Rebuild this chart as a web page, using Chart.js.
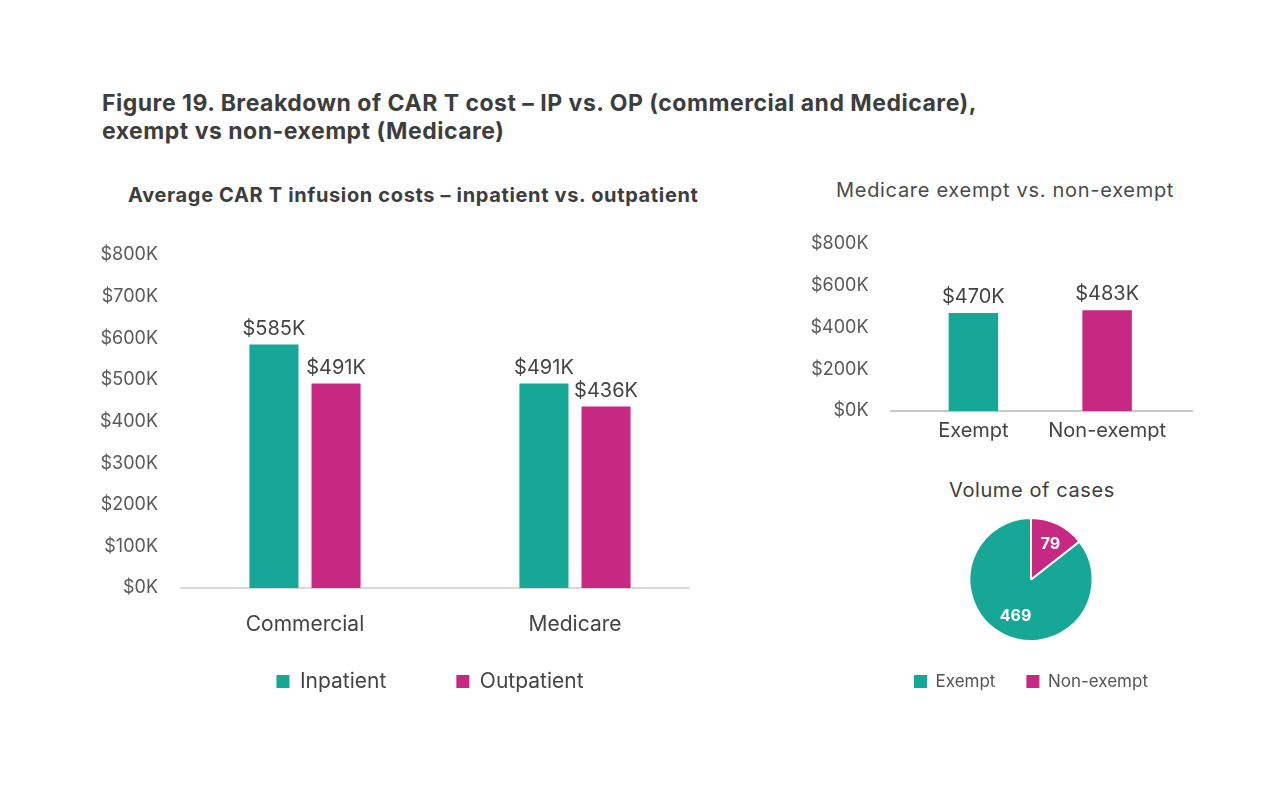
<!DOCTYPE html>
<html>
<head>
<meta charset="utf-8">
<script src="https://cdn.jsdelivr.net/npm/chart.js@4/dist/chart.umd.min.js"></script>
<style>
  html, body { margin: 0; padding: 0; background: #fff; }
  body { width: 1280px; height: 800px; position: relative; overflow: hidden; font-family: Inter, "Noto Sans", sans-serif; color: #3a3a3a; }
  .t { position: absolute; white-space: nowrap; }
  #fig { left: 102px; top: 89px; font-size: 23px; font-weight: 700; line-height: 28px; color: #3d3d3d; letter-spacing: 0.5px; }
  #sub1 { left: 128px; top: 183px; font-size: 20px; line-height: 24px; font-weight: 700; color: #3d3d3d; letter-spacing: 0.65px; }
  #sub2 { left: 836px; top: 178px; font-size: 20px; line-height: 24px; font-weight: 400; color: #4a4a4a; letter-spacing: 0.7px; }
  #sub3 { left: 949px; top: 478px; font-size: 20px; line-height: 24px; font-weight: 400; color: #3d3d3d; letter-spacing: 0.6px; }
  .box { position: absolute; }
</style>
</head>
<body>
<div class="t" id="fig">Figure 19. Breakdown of CAR T cost – IP vs. OP (commercial and Medicare),<br>exempt vs non-exempt (Medicare)</div>
<div class="t" id="sub1">Average CAR T infusion costs – inpatient vs. outpatient</div>
<div class="t" id="sub2">Medicare exempt vs. non-exempt</div>
<div class="t" id="sub3">Volume of cases</div>

<div class="box" style="left:80px;top:225px;width:640px;height:516px;"><canvas id="c1"></canvas></div>
<div class="box" style="left:795px;top:225px;width:402px;height:226px;"><canvas id="c2"></canvas></div>
<div class="box" style="left:871px;top:512px;width:320px;height:188px;"><canvas id="c3"></canvas></div>

<script>
// ---- Data (values in $K) ----
const categories = ['Commercial', 'Medicare'];
const inpatientCost = [585, 491];
const outpatientCost = [491, 436];

const medicareGroups = ['Exempt', 'Non-exempt'];
const medicareCost = [470, 483];

const caseLabels = ['Exempt', 'Non-exempt'];
const caseVolume = [469, 79];

const TEAL = '#16a796';
const MAGENTA = '#c72882';
const FONT = 'Inter, "Noto Sans", sans-serif';

const kFmt = v => '$' + v + 'K';

const barLabelPlugin = {
  id: 'barLabels',
  afterDatasetsDraw(chart, args, opts) {
    const ctx = chart.ctx;
    ctx.save();
    ctx.font = (opts.size || 18) + 'px ' + FONT;
    ctx.fillStyle = opts.color || '#444';
    ctx.textAlign = 'center';
    ctx.textBaseline = 'bottom';
    chart.data.datasets.forEach((ds, i) => {
      const meta = chart.getDatasetMeta(i);
      meta.data.forEach((el, j) => {
        ctx.fillText(kFmt(ds.data[j]), el.x, el.y - (opts.offset || 3));
      });
    });
    ctx.restore();
  }
};

const baselinePlugin = {
  id: 'baseline',
  beforeDatasetsDraw(chart, args, opts) {
    const a = chart.chartArea;
    const ctx = chart.ctx;
    ctx.save();
    ctx.strokeStyle = opts.color;
    ctx.lineWidth = opts.width;
    ctx.beginPath();
    ctx.moveTo(a.left - opts.extLeft, a.bottom);
    ctx.lineTo(a.right + opts.extRight, a.bottom);
    ctx.stroke();
    ctx.restore();
  }
};

// moves the legend so it sits closer to the category labels
const legendShiftPlugin = {
  id: 'legendShift',
  afterLayout(chart, args, opts) {
    const lg = chart.legend;
    if (lg) {
      lg.top -= opts.shiftY; lg.bottom -= opts.shiftY;
      lg.left -= opts.shiftX; lg.right -= opts.shiftX;
    }
  }
};

const pieLabelPlugin = {
  id: 'pieLabels',
  afterDatasetsDraw(chart) {
    const ctx = chart.ctx;
    const meta = chart.getDatasetMeta(0);
    ctx.save();
    ctx.font = 'bold 16px ' + FONT;
    ctx.fillStyle = '#ffffff';
    ctx.textAlign = 'center';
    ctx.textBaseline = 'middle';
    meta.data.forEach((arc, j) => {
      const mid = (arc.startAngle + arc.endAngle) / 2;
      const r = arc.outerRadius * 0.65;
      ctx.fillText(String(chart.data.datasets[0].data[j]), arc.x + Math.cos(mid) * r + 2, arc.y + Math.sin(mid) * r + 1);
    });
    ctx.restore();
  }
};

Chart.defaults.font.family = FONT;
Chart.defaults.animation = false;

// ---- Main bar chart ----
new Chart(document.getElementById('c1'), {
  type: 'bar',
  data: {
    labels: categories,
    datasets: [
      { label: 'Inpatient', data: inpatientCost, backgroundColor: TEAL },
      { label: 'Outpatient', data: outpatientCost, backgroundColor: MAGENTA }
    ]
  },
  options: {
    responsive: true,
    maintainAspectRatio: false,
    layout: { padding: { top: 30, right: 10, left: 0, bottom: 0 } },
    datasets: { bar: { categoryPercentage: 0.46, barPercentage: 0.79 } },
    scales: {
      y: {
        min: 0, max: 800,
        afterFit: s => { s.width = 90; },
        ticks: { stepSize: 100, callback: kFmt, color: '#595959', font: { size: 18 }, padding: 12 },
        grid: { display: false, drawTicks: false },
        border: { display: false }
      },
      x: {
        afterFit: s => { s.height = 52; },
        ticks: { color: '#444', font: { size: 21 }, padding: 24, maxRotation: 0 },
        grid: { display: false, drawTicks: false },
        border: { display: false }
      }
    },
    plugins: {
      legend: {
        position: 'bottom',
        fullSize: false,
        labels: { color: '#444', font: { size: 21 }, boxWidth: 13, boxHeight: 13, padding: 70 }
      },
      tooltip: { enabled: false },
      barLabels: { size: 20, color: '#444', offset: 6 },
      baseline: { color: '#d9d9d9', width: 2, extLeft: -10, extRight: -20 },
      legendShift: { shiftY: 39, shiftX: 10 }
    }
  },
  plugins: [baselinePlugin, barLabelPlugin, legendShiftPlugin]
});

// ---- Medicare exempt vs non-exempt bar chart ----
new Chart(document.getElementById('c2'), {
  type: 'bar',
  data: {
    labels: medicareGroups,
    datasets: [
      { label: 'Cost', data: medicareCost, backgroundColor: [TEAL, MAGENTA] }
    ]
  },
  options: {
    responsive: true,
    maintainAspectRatio: false,
    layout: { padding: { top: 19, right: 23, left: 0, bottom: 0 } },
    datasets: { bar: { categoryPercentage: 0.37, barPercentage: 1 } },
    scales: {
      y: {
        min: 0, max: 800,
        afterFit: s => { s.width = 111.5; s.paddingTop = 11; s.paddingBottom = 11; },
        ticks: { stepSize: 200, callback: kFmt, color: '#595959', font: { size: 18 }, padding: 38 },
        grid: { display: false, drawTicks: false },
        border: { display: false }
      },
      x: {
        afterFit: s => { s.height = 40; },
        ticks: { color: '#444', font: { size: 20 }, padding: 8, maxRotation: 0 },
        grid: { display: false, drawTicks: false },
        border: { display: false }
      }
    },
    plugins: {
      legend: { display: false },
      tooltip: { enabled: false },
      barLabels: { size: 20, color: '#444', offset: 6 },
      baseline: { color: '#b5b5b5', width: 1.5, extLeft: 16.5, extRight: 19 }
    }
  },
  plugins: [baselinePlugin, barLabelPlugin]
});

// ---- Pie chart: volume of cases ----
const totalCases = caseVolume.reduce((a, b) => a + b, 0);
new Chart(document.getElementById('c3'), {
  type: 'pie',
  data: {
    labels: caseLabels,
    datasets: [{
      data: caseVolume,
      backgroundColor: [TEAL, MAGENTA],
      borderColor: '#ffffff',
      borderWidth: 2
    }]
  },
  options: {
    responsive: true,
    maintainAspectRatio: false,
    rotation: 360 * caseVolume[1] / totalCases,
    layout: { padding: { top: 5, bottom: 0 } },
    plugins: {
      legend: {
        position: 'bottom',
        labels: {
          color: '#555', font: { size: 17 }, boxWidth: 13, boxHeight: 13, padding: 31,
          generateLabels: chart => Chart.overrides.pie.plugins.legend.labels.generateLabels(chart)
            .map(l => Object.assign(l, { lineWidth: 0, strokeStyle: l.fillStyle }))
        }
      },
      tooltip: { enabled: false }
    }
  },
  plugins: [pieLabelPlugin]
});
</script>
</body>
</html>
